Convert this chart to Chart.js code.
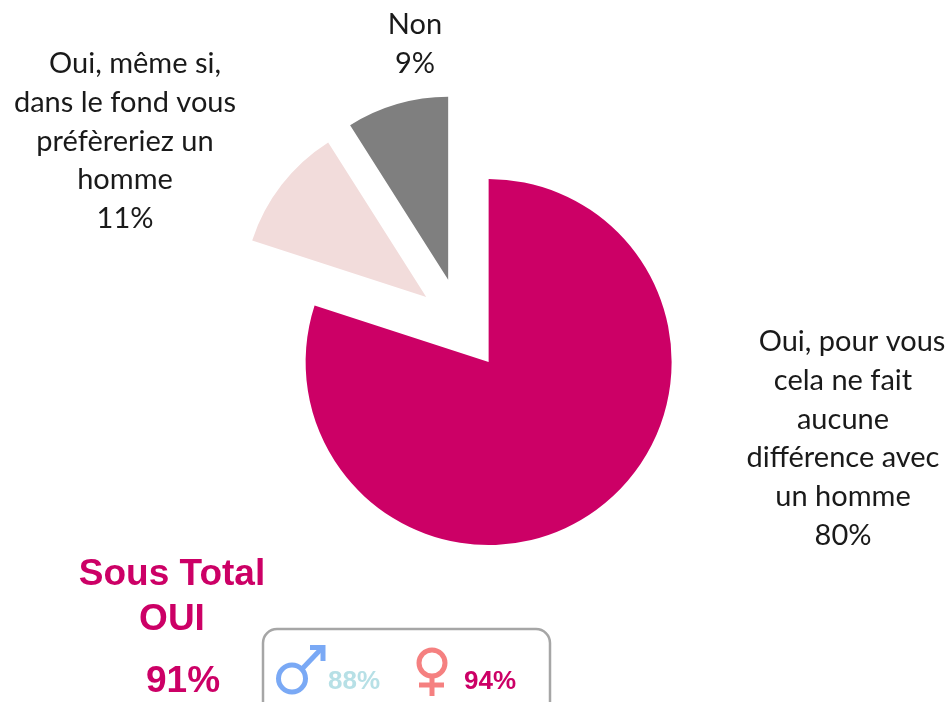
<!DOCTYPE html>
<html><head><meta charset="utf-8">
<style>html,body{margin:0;padding:0;background:#fff}#w{width:952px;height:702px;position:relative}</style>
<script src="https://cdn.jsdelivr.net/npm/chart.js@4"></script></head>
<body><div id="w"><canvas id="c" width="952" height="702"></canvas></div>
<script>
const categories = ["Oui, pour vous cela ne fait aucune différence avec un homme", "Oui, même si, dans le fond vous préfèreriez un homme", "Non"];
const shares = [80, 11, 9];
const sliceColors = ["#cc0066", "#f2dcdb", "#7f7f7f"];
const labelNon = ["Non", "9%"];
const labelMeme = ["Oui, même si,", "dans le fond vous", "préfèreriez un", "homme", "11%"];
const labelAucune = ["Oui, pour vous", "cela ne fait", "aucune", "différence avec", "un homme", "80%"];
const subtotalTitle = ["Sous Total", "OUI"];
const subtotalValue = "91%";
const menValue = "88%";
const womenValue = "94%";

// Chart.js shrinks and narrows arcs that use `offset`; move each arc's centre instead so the wedges keep their true angle and radius.
const explode = {
  id: "explode",
  beforeDatasetsDraw(chart) {
    const a = chart.chartArea, cx = (a.left + a.right) / 2, cy = (a.top + a.bottom) / 2, dist = [47, 44, 46];
    chart.getDatasetMeta(0).data.forEach((arc, i) => {
      const mid = (arc.startAngle + arc.endAngle) / 2;
      arc.x = cx + Math.cos(mid) * dist[i];
      arc.y = cy + Math.sin(mid) * dist[i];
    });
  }
};

const annot = {
  id: "annot",
  afterDraw(chart) {
    const x = chart.ctx;
    x.save();
    x.textAlign = "center";
    x.textBaseline = "alphabetic";
    x.fillStyle = "#1a1a1a";
    x.font = "29px Lato";
    const block = (lines, cx, y0, xs) => lines.forEach((t, i) => x.fillText(t, xs ? xs[i] : cx, y0 + i * 38.8));
    block(labelNon, 415, 34);
    block(labelMeme, 125, 73, [135, 125, 125, 125, 125]);
    block(labelAucune, 845, 351, [852, 843, 843, 843, 843, 843]);

    x.fillStyle = "#cc0066";
    x.font = "bold 37px 'Liberation Sans'";
    x.fillText(subtotalTitle[0], 172, 585);
    x.fillText(subtotalTitle[1], 172, 630);
    x.fillText(subtotalValue, 183, 692);

    x.strokeStyle = "#a6a6a6";
    x.lineWidth = 2.5;
    x.beginPath();
    x.roundRect(263, 629, 287, 90, 14);
    x.stroke();

    x.font = "bold 26px 'Liberation Sans'";
    x.fillStyle = "#b7e0e6";
    x.fillText(menValue, 354, 689);
    x.fillStyle = "#cc0066";
    x.fillText(womenValue, 490, 689);

    x.lineWidth = 5;
    x.strokeStyle = "#7aa9f5";
    x.beginPath(); x.arc(292, 678.5, 13.5, 0, Math.PI * 2); x.stroke();
    x.beginPath(); x.moveTo(302, 669); x.lineTo(322, 648); x.stroke();
    x.beginPath(); x.moveTo(310, 647.5); x.lineTo(323, 647.5); x.lineTo(323, 661); x.stroke();

    x.strokeStyle = "#f58080";
    x.beginPath(); x.arc(432, 663, 13, 0, Math.PI * 2); x.stroke();
    x.beginPath(); x.moveTo(432, 677); x.lineTo(432, 696); x.stroke();
    x.beginPath(); x.moveTo(419, 685); x.lineTo(444, 685); x.stroke();
    x.restore();
  }
};

new Chart(document.getElementById("c"), {
  type: "pie",
  data: { labels: categories, datasets: [{ data: shares, backgroundColor: sliceColors, borderWidth: 0, radius: 183 }] },
  options: {
    responsive: false, animation: false,
    layout: { padding: { left: 0, right: 30, top: 0, bottom: 54 } },
    plugins: { legend: { display: false }, tooltip: { enabled: false } }
  },
  plugins: [explode, annot]
});
</script></body></html>
